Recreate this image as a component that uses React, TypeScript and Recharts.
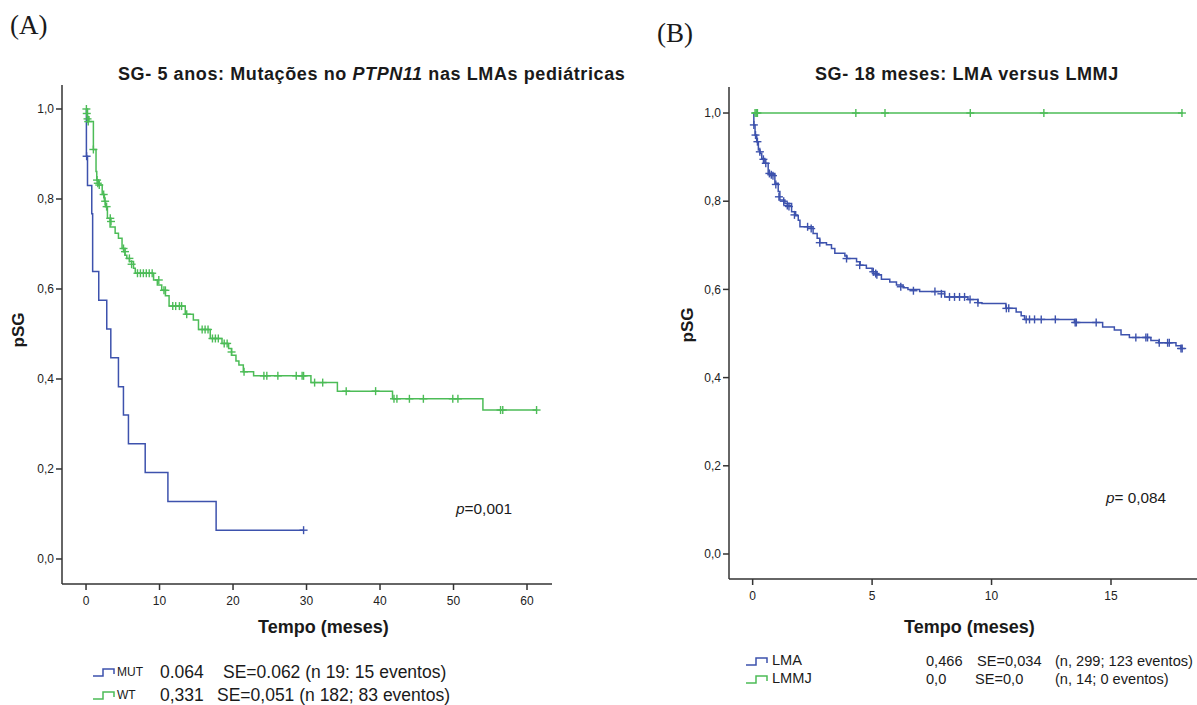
import React from 'react';
import { ComposedChart, Line, Scatter, XAxis, YAxis } from 'recharts';

// Painel A: SG 5 anos, PTPN11 (tempo em meses, sobrevida)
const mutSteps: [number, number][] = [
  [0, 1.0], [0.05, 0.895], [0.2, 0.83], [0.78, 0.767], [0.9, 0.639], [1.73, 0.575],
  [2.82, 0.511], [3.37, 0.447], [4.41, 0.383], [5.09, 0.32], [5.77, 0.256],
  [8.05, 0.192], [11.14, 0.128], [17.7, 0.064], [29.6, 0.064],
];
const mutCensored: [number, number][] = [[0.08, 0.895], [29.6, 0.064]];

const wtSteps: [number, number][] = [
  [0, 1.0], [0.2, 0.983], [0.4, 0.972], [1.0, 0.91], [1.36, 0.861], [1.46, 0.842],
  [1.73, 0.831], [2.2, 0.81], [2.5, 0.795], [2.64, 0.783], [2.91, 0.757], [3.27, 0.738],
  [3.96, 0.724], [4.41, 0.713], [4.9, 0.69], [5.3, 0.675], [5.55, 0.668], [5.91, 0.661],
  [6.46, 0.646], [6.7, 0.635], [9.19, 0.62], [9.7, 0.609], [10.3, 0.597], [10.8, 0.585],
  [11.3, 0.562], [13.5, 0.544], [14.6, 0.531], [15.3, 0.51], [16.9, 0.49], [18.5, 0.479],
  [19.4, 0.468], [19.8, 0.453], [20.4, 0.44], [20.8, 0.431], [21.4, 0.416], [22.8, 0.407],
  [30.6, 0.392], [34.2, 0.373], [41.7, 0.356], [54.0, 0.331], [61.3, 0.331],
];
const wtCensored: [number, number][] = [
  [0.05, 1.0], [0.1, 0.99], [0.2, 0.978], [0.3, 0.972], [1.0, 0.91], [1.5, 0.842],
  [1.6, 0.835], [1.8, 0.831], [2.4, 0.81], [2.6, 0.795], [2.8, 0.783], [3.3, 0.757],
  [3.4, 0.75], [5.1, 0.69], [5.3, 0.683], [5.9, 0.668], [6.2, 0.655], [7.0, 0.635],
  [7.4, 0.635], [7.8, 0.635], [8.2, 0.635], [8.6, 0.635], [9.0, 0.635], [9.9, 0.62],
  [10.6, 0.597], [10.8, 0.597], [11.8, 0.562], [12.2, 0.562], [12.7, 0.562], [13.0, 0.562],
  [13.7, 0.544], [15.8, 0.51], [16.2, 0.51], [16.6, 0.51], [17.2, 0.49], [17.6, 0.49],
  [18.0, 0.49], [18.8, 0.479], [19.2, 0.479], [19.8, 0.46], [21.5, 0.416], [24.2, 0.407],
  [24.6, 0.407], [26.1, 0.407], [28.6, 0.407], [29.4, 0.407], [29.6, 0.407], [31.1, 0.392],
  [32.2, 0.392], [35.4, 0.373], [39.4, 0.373], [41.9, 0.356], [42.3, 0.356], [44.0, 0.356],
  [45.9, 0.356], [49.9, 0.356], [50.6, 0.356], [56.4, 0.331], [56.7, 0.331], [61.3, 0.331],
];

// Painel B: SG 18 meses, LMA versus LMMJ
const lmaSteps: [number, number][] = [
  [0, 1.0], [0.05, 0.973], [0.1, 0.95], [0.17, 0.935], [0.24, 0.916], [0.31, 0.909],
  [0.38, 0.897], [0.51, 0.886], [0.65, 0.863], [0.93, 0.841], [1.07, 0.822], [1.14, 0.803],
  [1.35, 0.795], [1.63, 0.776], [1.8, 0.767], [1.91, 0.757], [1.98, 0.742], [2.53, 0.727],
  [2.7, 0.716], [2.81, 0.706], [3.09, 0.701], [3.3, 0.693], [3.44, 0.682], [3.86, 0.676],
  [3.95, 0.67], [4.35, 0.663], [4.5, 0.655], [4.76, 0.648], [5.0, 0.64], [5.2, 0.633],
  [5.39, 0.623], [5.74, 0.617], [6.02, 0.61], [6.3, 0.604], [6.5, 0.6], [6.99, 0.595],
  [8.04, 0.583], [9.01, 0.577], [9.43, 0.57], [9.6, 0.568], [10.6, 0.557], [11.03, 0.549],
  [11.24, 0.54], [11.38, 0.532], [13.47, 0.525], [14.65, 0.515], [15.14, 0.508],
  [15.42, 0.497], [15.77, 0.491], [16.67, 0.484], [17.0, 0.479], [17.72, 0.472],
  [17.93, 0.466], [18.0, 0.466],
];
const lmaCensored: [number, number][] = [
  [0.05, 0.973], [0.12, 0.95], [0.2, 0.935], [0.3, 0.912], [0.45, 0.895], [0.55, 0.886],
  [0.7, 0.863], [0.78, 0.86], [0.85, 0.858], [0.97, 0.838], [1.1, 0.81], [1.3, 0.8],
  [1.45, 0.79], [1.52, 0.788], [1.75, 0.769], [2.3, 0.742], [2.45, 0.738], [2.81, 0.706],
  [3.93, 0.67], [4.48, 0.655], [5.05, 0.64], [5.15, 0.636], [5.2, 0.633], [6.2, 0.606],
  [6.73, 0.597], [7.63, 0.595], [7.9, 0.59], [8.24, 0.583], [8.45, 0.583], [8.66, 0.583],
  [8.87, 0.583], [9.1, 0.577], [9.43, 0.57], [10.62, 0.557], [10.72, 0.557], [11.45, 0.532],
  [11.59, 0.532], [11.8, 0.532], [12.08, 0.532], [12.67, 0.532], [13.5, 0.525],
  [13.55, 0.525], [14.38, 0.525], [16.04, 0.491], [16.46, 0.491], [16.53, 0.491],
  [17.02, 0.479], [17.37, 0.479], [17.44, 0.479], [17.93, 0.466], [17.98, 0.466],
];
const lmmjSteps: [number, number][] = [[0, 1.0], [18.0, 1.0]];
const lmmjCensored: [number, number][] = [
  [0.1, 1.0], [0.15, 1.0], [0.2, 1.0], [4.32, 1.0], [5.54, 1.0], [9.11, 1.0], [12.19, 1.0], [17.97, 1.0],
];

const yTicks = [0, 0.2, 0.4, 0.6, 0.8, 1.0];
const xTicksA = [0, 10, 20, 30, 40, 50, 60];
const xTicksB = [0, 5, 10, 15];

const BLUE = '#3d52ad';
const GREEN = '#4cbc57';
const AXIS = '#333';
const FONT = 'Arial, "Liberation Sans", sans-serif';

const toRows = (pts: [number, number][]) => pts.map(([t, v]) => ({ t, v }));
const fmtY = (v: number) => v.toFixed(1).replace('.', ',');

const censorMark = (color: string) => (props: any) => {
  const { cx, cy } = props;
  if (cx == null || cy == null) return <g />;
  return (
    <g stroke={color} strokeWidth={1.4}>
      <line x1={cx - 4} y1={cy} x2={cx + 4} y2={cy} />
      <line x1={cx} y1={cy - 4} x2={cx} y2={cy + 4} />
    </g>
  );
};

const tickStyle = { fill: '#222', fontSize: 12, fontFamily: FONT };

const StepIcon = ({ color }: { color: string }) => (
  <svg width={24} height={12} style={{ display: 'block' }}>
    <path d="M1,10 H11 V3 H22 V8" fill="none" stroke={color} strokeWidth={1.5} />
  </svg>
);

interface Series {
  steps: [number, number][];
  censored: [number, number][];
  color: string;
  name: string;
}

const KMChart = ({
  width, height, margin, xDomain, yDomain, xTicks, series,
}: {
  width: number;
  height: number;
  margin: { top: number; right: number; bottom: number; left: number };
  xDomain: [number, number];
  yDomain: [number, number];
  xTicks: number[];
  series: Series[];
}) => (
  <ComposedChart width={width} height={height} margin={margin}>
    <XAxis
      type="number"
      dataKey="t"
      domain={xDomain}
      ticks={xTicks}
      allowDataOverflow
      height={30}
      tick={tickStyle}
      tickSize={6}
      tickMargin={6}
      axisLine={{ stroke: AXIS, strokeWidth: 1.5 }}
      tickLine={{ stroke: AXIS, strokeWidth: 1.5 }}
    />
    <YAxis
      type="number"
      dataKey="v"
      domain={yDomain}
      ticks={yTicks}
      allowDataOverflow
      width={40}
      tick={tickStyle}
      tickSize={6}
      tickFormatter={fmtY}
      axisLine={{ stroke: AXIS, strokeWidth: 1.5 }}
      tickLine={{ stroke: AXIS, strokeWidth: 1.5 }}
    />
    {series.map((s) => (
      <Line
        key={s.name}
        data={toRows(s.steps)}
        dataKey="v"
        type="stepAfter"
        stroke={s.color}
        strokeWidth={1.5}
        dot={false}
        activeDot={false}
        isAnimationActive={false}
      />
    ))}
    {series.map((s) => (
      <Scatter
        key={s.name + '-c'}
        data={toRows(s.censored)}
        dataKey="v"
        shape={censorMark(s.color)}
        isAnimationActive={false}
      />
    ))}
  </ComposedChart>
);

const abs = (left: number, top: number, extra: React.CSSProperties = {}): React.CSSProperties => ({
  position: 'absolute',
  left,
  top,
  whiteSpace: 'nowrap',
  fontFamily: FONT,
  color: '#1a1a1a',
  lineHeight: 1,
  ...extra,
});

const titleStyle: React.CSSProperties = { fontSize: 18, fontWeight: 'bold', letterSpacing: 0.6 };

export default function App() {
  return (
    <div style={{ position: 'absolute', left: 0, top: 0, width: 1197, height: 705, background: '#fff', overflow: 'hidden' }}>
      {/* Painel A */}
      <div style={abs(10, 12, { fontFamily: '"Liberation Serif", "Times New Roman", serif', fontSize: 27 })}>(A)</div>
      <div style={abs(118, 65, titleStyle)}>
        SG- 5 anos: Mutações no <i>PTPN11</i> nas LMAs pediátricas
      </div>
      <div style={{ position: 'absolute', left: 0, top: 0 }}>
        <KMChart
          width={600}
          height={620}
          margin={{ top: 85, right: 48, bottom: 6, left: 22 }}
          xDomain={[-3.27, 63.4]}
          yDomain={[-0.0556, 1.0533]}
          xTicks={xTicksA}
          series={[
            { steps: mutSteps, censored: mutCensored, color: BLUE, name: 'MUT' },
            { steps: wtSteps, censored: wtCensored, color: GREEN, name: 'WT' },
          ]}
        />
      </div>
      <div style={abs(1, 330, { fontSize: 17, fontWeight: 'bold', transform: 'translateY(-50%) rotate(-90deg)' })}>pSG</div>
      <div style={abs(258, 618, { fontSize: 18, fontWeight: 'bold' })}>Tempo (meses)</div>
      <div style={abs(456, 501, { fontSize: 15.4 })}><i>p</i>=0,001</div>

      <div style={abs(92, 666)}><StepIcon color={BLUE} /></div>
      <div style={abs(117, 666, { fontSize: 12 })}>MUT</div>
      <div style={abs(160, 664, { fontSize: 17.5 })}>0.064</div>
      <div style={abs(223, 664, { fontSize: 17.5 })}>SE=0.062 (n 19: 15 eventos)</div>
      <div style={abs(92, 689)}><StepIcon color={GREEN} /></div>
      <div style={abs(117, 689, { fontSize: 12 })}>WT</div>
      <div style={abs(160, 687, { fontSize: 17.5 })}>0,331</div>
      <div style={abs(217, 687, { fontSize: 17.5 })}>SE=0,051 (n 182; 83 eventos)</div>

      {/* Painel B */}
      <div style={abs(657, 20, { fontFamily: '"Liberation Serif", "Times New Roman", serif', fontSize: 27 })}>(B)</div>
      <div style={abs(815, 65, titleStyle)}>SG- 18 meses: LMA versus LMMJ</div>
      <div style={{ position: 'absolute', left: 680, top: 0 }}>
        <KMChart
          width={517}
          height={615}
          margin={{ top: 87, right: 0, bottom: 6, left: 9 }}
          xDomain={[-0.99, 18.6]}
          yDomain={[-0.0567, 1.059]}
          xTicks={xTicksB}
          series={[
            { steps: lmaSteps, censored: lmaCensored, color: BLUE, name: 'LMA' },
            { steps: lmmjSteps, censored: lmmjCensored, color: GREEN, name: 'LMMJ' },
          ]}
        />
      </div>
      <div style={abs(670, 325, { fontSize: 17, fontWeight: 'bold', transform: 'translateY(-50%) rotate(-90deg)' })}>pSG</div>
      <div style={abs(904, 618, { fontSize: 18, fontWeight: 'bold' })}>Tempo (meses)</div>
      <div style={abs(1106, 490, { fontSize: 15.3 })}><i>p</i>= 0,084</div>

      <div style={abs(745, 655)}><StepIcon color={BLUE} /></div>
      <div style={abs(772, 653, { fontSize: 14.6 })}>LMA</div>
      <div style={abs(926, 654, { fontSize: 14.6 })}>0,466</div>
      <div style={abs(977, 654, { fontSize: 14.6 })}>SE=0,034</div>
      <div style={abs(1055, 654, { fontSize: 14.6 })}>(n, 299; 123 eventos)</div>
      <div style={abs(745, 673)}><StepIcon color={GREEN} /></div>
      <div style={abs(772, 671, { fontSize: 14.6 })}>LMMJ</div>
      <div style={abs(926, 672, { fontSize: 14.6 })}>0,0</div>
      <div style={abs(975, 672, { fontSize: 14.6 })}>SE=0,0</div>
      <div style={abs(1055, 672, { fontSize: 14.6 })}>(n, 14; 0 eventos)</div>
    </div>
  );
}
